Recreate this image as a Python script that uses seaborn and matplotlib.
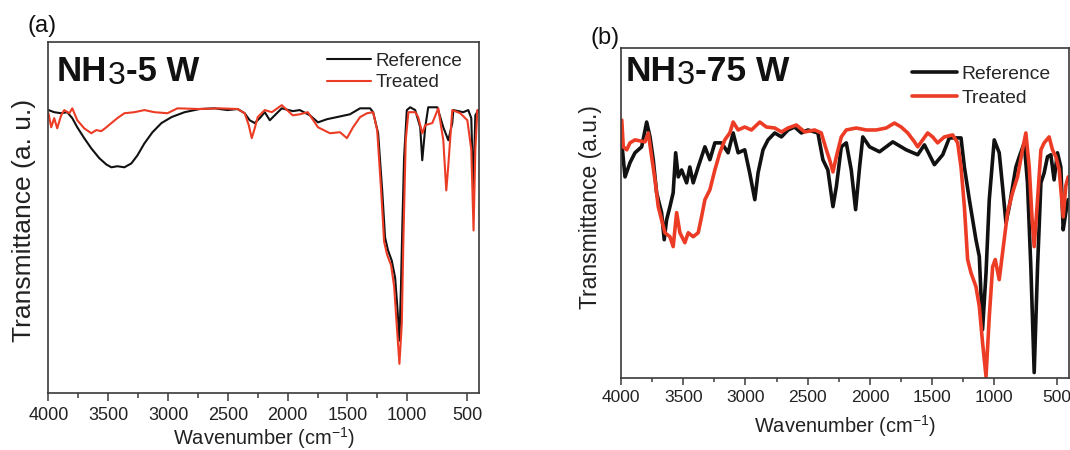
import matplotlib
matplotlib.use("Agg")
import matplotlib.pyplot as plt
import pandas as pd
import seaborn as sns

# ---------------- data ----------------
series_labels = ["Reference", "Treated"]
x_ticks = [4000, 3500, 3000, 2500, 2000, 1500, 1000, 500]

# Panel (a): NH3-5 W
a_ref_wn = [4000, 3952, 3894, 3843, 3801, 3759, 3701, 3642, 3575, 3516, 3474, 3424, 3365, 3307, 3256,
            3198, 3130, 3055, 2971, 2862, 2736, 2611, 2502, 2418, 2359, 2317, 2275, 2233, 2191, 2149,
            2099, 2049, 1957, 1898, 1813, 1746, 1671, 1588, 1479, 1394, 1310, 1285, 1243, 1209, 1185,
            1160, 1129, 1101, 1082, 1065, 1053, 1040, 1026, 1003, 975, 933, 891, 874, 849, 824,
            748, 698, 656, 623, 614, 531, 489, 464, 447, 430, 405]
a_ref_t = [80.6, 80.0, 79.7, 80.0, 78.3, 75.7, 72.6, 69.7, 66.9, 65.1, 64.3, 64.6, 64.3, 65.4, 67.7,
           71.1, 74.3, 76.9, 78.6, 80.0, 80.9, 81.1, 80.6, 80.9, 79.7, 77.7, 76.9, 78.3, 80.0, 77.7,
           79.4, 81.1, 80.3, 80.6, 79.1, 77.1, 78.0, 78.6, 79.4, 81.1, 81.1, 80.0, 74.0, 57.7, 44.3,
           40.6, 37.7, 32.9, 24.3, 14.9, 29.1, 48.3, 67.1, 80.6, 81.4, 80.6, 75.7, 66.3, 75.7, 81.4,
           81.4, 75.7, 72.0, 76.9, 80.6, 80.0, 80.6, 78.3, 57.7, 79.1, 80.6]
a_trt_wn = [4000, 3977, 3952, 3927, 3894, 3868, 3826, 3801, 3759, 3701, 3642, 3600, 3558, 3516, 3474,
            3424, 3365, 3281, 3198, 3114, 3005, 2921, 2736, 2569, 2418, 2359, 2325, 2300, 2275, 2250,
            2191, 2132, 2049, 1957, 1898, 1831, 1746, 1646, 1562, 1504, 1453, 1394, 1336, 1285, 1251,
            1218, 1193, 1168, 1134, 1109, 1084, 1065, 1045, 1032, 1012, 990, 933, 908, 874, 849,
            790, 740, 698, 673, 656, 623, 556, 497, 464, 445, 430, 413, 405]
a_trt_t = [79.7, 75.7, 78.3, 75.4, 79.1, 80.6, 79.7, 81.1, 77.7, 75.4, 74.0, 74.9, 74.6, 75.7, 76.9,
           78.3, 79.7, 80.0, 80.6, 80.0, 79.7, 81.1, 80.9, 81.1, 80.9, 79.7, 76.3, 72.6, 75.4, 78.6,
           80.6, 80.0, 82.0, 79.1, 79.4, 80.0, 75.7, 74.0, 74.3, 72.6, 75.7, 78.6, 79.7, 80.0, 74.9,
           57.7, 43.1, 39.4, 36.3, 30.3, 17.7, 8.3, 19.7, 43.4, 72.0, 80.0, 80.0, 78.6, 74.0, 76.3,
           76.9, 81.1, 72.0, 57.7, 64.9, 80.6, 79.7, 77.7, 69.4, 46.3, 69.4, 80.6, 80.0]

# Panel (b): NH3-75 W
b_ref_wn = [3994, 3968, 3928, 3888, 3834, 3794, 3767, 3741, 3714, 3674, 3653, 3634, 3607, 3581, 3561,
            3540, 3513, 3473, 3447, 3420, 3380, 3326, 3286, 3246, 3192, 3140, 3099, 3059, 3006, 2966,
            2925, 2899, 2859, 2819, 2765, 2711, 2658, 2605, 2551, 2498, 2418, 2378, 2338, 2297, 2270,
            2230, 2190, 2150, 2115, 2083, 2057, 2003, 1923, 1816, 1709, 1616, 1562, 1482, 1415, 1362,
            1268, 1241, 1201, 1148, 1121, 1095, 1067, 1041, 1001, 961, 934, 907, 880, 854, 827,
            800, 760, 734, 707, 680, 653, 626, 600, 573, 546, 520, 493, 466, 447, 426, 407]
b_ref_t = [71.3, 61.0, 65.3, 68.3, 70.1, 77.6, 73.1, 66.2, 56.2, 50.2, 42.0, 48.0, 52.0, 56.2, 68.3,
           61.0, 63.1, 59.2, 64.0, 59.2, 64.0, 70.1, 66.2, 71.3, 71.3, 68.3, 74.3, 68.3, 69.2, 62.2,
           54.1, 62.2, 69.2, 72.2, 74.3, 73.1, 75.2, 76.1, 74.3, 75.2, 74.3, 66.2, 63.1, 52.0, 58.0,
           70.1, 71.3, 63.1, 51.1, 64.0, 73.1, 70.1, 68.6, 71.6, 69.2, 67.7, 70.7, 64.7, 67.7, 72.8,
           72.8, 64.0, 54.1, 42.0, 36.9, 14.8, 32.0, 54.1, 72.2, 68.3, 58.0, 47.1, 52.0, 58.0, 64.0,
           67.1, 71.3, 59.2, 33.8, 1.8, 33.8, 59.2, 62.2, 67.1, 67.7, 60.1, 68.3, 64.0, 45.0, 50.2, 54.1]
b_trt_wn = [3994, 3982, 3954, 3928, 3888, 3808, 3781, 3754, 3727, 3701, 3674, 3647, 3607, 3581, 3553,
            3527, 3487, 3460, 3420, 3380, 3353, 3326, 3286, 3246, 3206, 3166, 3126, 3099, 3059, 3006,
            2952, 2885, 2832, 2765, 2711, 2658, 2591, 2524, 2444, 2391, 2350, 2324, 2297, 2270, 2230,
            2190, 2110, 2030, 1949, 1869, 1803, 1749, 1696, 1642, 1616, 1576, 1536, 1496, 1456, 1402,
            1335, 1295, 1268, 1241, 1215, 1188, 1148, 1121, 1095, 1067, 1041, 1014, 993, 961, 934,
            894, 854, 814, 774, 747, 720, 698, 680, 653, 626, 600, 560, 533, 506, 479, 447, 426, 407]
b_trt_t = [78.2, 70.1, 69.2, 71.3, 72.2, 71.6, 74.3, 67.1, 60.1, 52.0, 48.0, 44.1, 42.9, 39.9, 50.2,
           44.1, 41.1, 44.1, 42.9, 44.1, 48.9, 54.1, 57.1, 63.1, 68.3, 72.2, 74.3, 77.6, 75.2, 76.1,
           75.2, 77.6, 76.1, 75.8, 74.6, 75.8, 76.7, 74.6, 75.2, 74.3, 69.2, 66.2, 62.5, 67.1, 73.1,
           75.2, 75.8, 75.2, 75.2, 75.8, 77.3, 76.1, 74.3, 71.6, 70.1, 72.2, 74.3, 73.1, 71.3, 73.1,
           73.7, 71.3, 64.0, 52.0, 36.0, 32.0, 27.8, 21.8, 10.9, 0.6, 18.7, 33.8, 36.0, 29.9, 38.1,
           50.2, 56.2, 61.0, 69.2, 74.3, 64.0, 48.9, 39.9, 54.1, 69.2, 71.3, 73.1, 69.2, 67.1, 63.1,
           48.9, 58.3, 61.0]

# ---------------- style ----------------
sns.set_style("white")
plt.rcParams["font.family"] = ["Liberation Sans", "DejaVu Sans"]
plt.rcParams["mathtext.default"] = "regular"
plt.rcParams["axes.unicode_minus"] = False

BLACK = "#111111"
RED = "#EC3C25"
SPINE = "#3a3a3a"


def long_df(ref_wn, ref_t, trt_wn, trt_t):
    return pd.concat([
        pd.DataFrame({"wn": ref_wn, "T": ref_t, "series": series_labels[0]}),
        pd.DataFrame({"wn": trt_wn, "T": trt_t, "series": series_labels[1]}),
    ], ignore_index=True)


fig = plt.figure(figsize=(10.7, 4.5), dpi=100)
fig.patch.set_facecolor("white")

panels = [
    dict(rect=[0.0453, 0.1267, 0.4023, 0.780],
         df=long_df(a_ref_wn, a_ref_t, a_trt_wn, a_trt_t),
         lw=1.5, tick_fs=13, xlab_fs=14.4, ylab_fs=19, ylabel="Transmittance (a. u.)",
         ylab_x=-0.028, ylab_y=0.493, xlab_y=-0.092,
         leg_fs=13.6, leg_anchor=(0.646, 0.970), leg_hl=2.33, leg_sp=0.22,
         title=("NH", "3", "-5 W"), title_fs=(25, 23), title_xy=(0.02, 0.868),
         tag="(a)", tag_xy=(42 / 1070, 1 - 26 / 450),
         maj_len=6, min_len=3.5, pad=4.0),
    dict(rect=[0.5804, 0.1589, 0.4187, 0.7344],
         df=long_df(b_ref_wn, b_ref_t, b_trt_wn, b_trt_t),
         lw=2.6, tick_fs=12.5, xlab_fs=14.4, ylab_fs=16.5, ylabel="Transmittance (a.u.)",
         ylab_x=-0.042, ylab_y=0.519, xlab_y=-0.105,
         leg_fs=13.9, leg_anchor=(0.649, 0.9486), leg_hl=2.33, leg_sp=0.36,
         title=("NH", "3", "-75 W"), title_fs=(25.5, 23.5), title_xy=(0.01, 0.878),
         tag="(b)", tag_xy=(605 / 1070, 1 - 38 / 450),
         maj_len=5, min_len=3, pad=3.5),
]

for p in panels:
    ax = fig.add_axes(p["rect"])
    sns.lineplot(data=p["df"], x="wn", y="T", hue="series",
                 palette={series_labels[0]: BLACK, series_labels[1]: RED},
                 hue_order=series_labels, estimator=None, sort=False,
                 linewidth=p["lw"], ax=ax)
    ax.set_ylim(0, 100)
    ax.set_xticks(x_ticks)
    ax.set_xticks([v + 250 for v in x_ticks[:-1]] + [250], minor=True)
    ax.set_xlim(4000, 400)
    ax.set_yticks([])
    ax.tick_params(axis="x", which="major", direction="out", length=p["maj_len"], width=1.1,
                   color=SPINE, labelsize=p["tick_fs"], pad=p["pad"], bottom=True, top=False,
                   labelcolor="#222222")
    ax.tick_params(axis="x", which="minor", direction="out", length=p["min_len"], width=1.1,
                   color=SPINE, bottom=True, top=False)
    for s in ax.spines.values():
        s.set_visible(True)
        s.set_color(SPINE)
        s.set_linewidth(1.2)

    ax.set_xlabel("Wavenumber (cm$^{-1}$)", fontsize=p["xlab_fs"], color="#222222")
    ax.xaxis.set_label_coords(0.5, p["xlab_y"])
    ax.set_ylabel(p["ylabel"], fontsize=p["ylab_fs"], color="#222222")
    ax.yaxis.set_label_coords(p["ylab_x"], p["ylab_y"])

    handles, labels = ax.get_legend_handles_labels()
    ax.legend(handles, labels, loc="upper left", bbox_to_anchor=p["leg_anchor"],
              frameon=False, fontsize=p["leg_fs"], handlelength=p["leg_hl"],
              handletextpad=0.26, labelspacing=p["leg_sp"], borderpad=0, borderaxespad=0)

    # composed title "NH3-xx W"
    big, small = p["title_fs"]
    t1 = ax.text(p["title_xy"][0], p["title_xy"][1], p["title"][0], transform=ax.transAxes,
                 fontsize=big, fontweight="bold", ha="left", va="bottom", color="#111111")
    t2 = ax.annotate(p["title"][1], xy=(1, 0), xycoords=t1, xytext=(0.5, -2),
                     textcoords="offset points", fontsize=small, fontweight="normal",
                     ha="left", va="bottom", color="#111111")
    ax.annotate(p["title"][2], xy=(1, 0), xycoords=t2, xytext=(0, 2),
                textcoords="offset points", fontsize=big, fontweight="bold",
                ha="left", va="bottom", color="#111111")

    fig.text(p["tag_xy"][0], p["tag_xy"][1], p["tag"], fontsize=17, ha="center", va="center",
             color="#111111")

fig.savefig("out.png", dpi=100, facecolor="white")
